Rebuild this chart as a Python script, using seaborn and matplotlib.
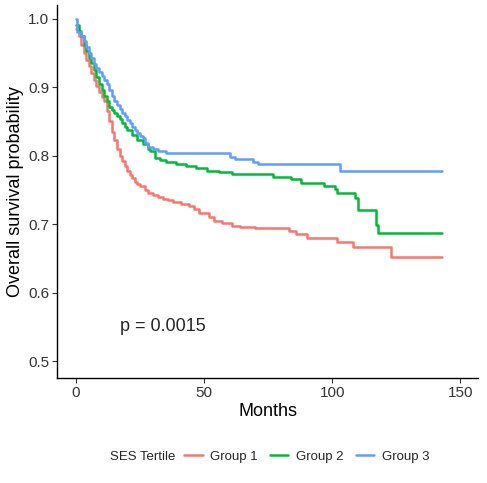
import seaborn as sns
import matplotlib.pyplot as plt
import pandas as pd

# Kaplan-Meier step points
months_g1 = [0, 1, 2, 3, 4, 5, 6, 7, 8, 9, 10, 11, 12, 13, 14, 15, 16, 17, 18, 19,
             20, 21, 22, 23, 24, 25, 27, 28, 30, 32, 34, 36, 38, 41, 44, 46, 48, 52,
             54, 57, 61, 64, 70, 83, 86, 90, 102, 108, 123, 143]
surv_g1 = [0.985, 0.975, 0.962, 0.950, 0.940, 0.930, 0.921, 0.910, 0.901, 0.893,
           0.885, 0.880, 0.865, 0.850, 0.835, 0.822, 0.810, 0.800, 0.792, 0.785,
           0.778, 0.772, 0.767, 0.762, 0.758, 0.755, 0.750, 0.746, 0.743, 0.740,
           0.737, 0.735, 0.732, 0.729, 0.726, 0.722, 0.716, 0.710, 0.704, 0.702,
           0.697, 0.696, 0.694, 0.690, 0.686, 0.680, 0.674, 0.667, 0.652, 0.652]

months_g2 = [0, 1, 2, 3, 4, 5, 6, 7, 8, 9, 10, 11, 12, 13, 14, 15, 16, 17, 18, 19,
             20, 22, 24, 26, 28, 29, 31, 33, 35, 39, 43, 47, 51, 56, 61, 77, 84, 88,
             97, 101, 102, 109, 110, 117, 118, 143]
surv_g2 = [0.990, 0.982, 0.974, 0.962, 0.952, 0.942, 0.935, 0.925, 0.915, 0.905,
           0.896, 0.887, 0.879, 0.871, 0.866, 0.862, 0.858, 0.854, 0.848, 0.842,
           0.837, 0.830, 0.823, 0.817, 0.810, 0.806, 0.797, 0.793, 0.790, 0.787,
           0.785, 0.782, 0.778, 0.776, 0.773, 0.769, 0.766, 0.760, 0.756, 0.751,
           0.746, 0.738, 0.720, 0.699, 0.687, 0.687]

months_g3 = [0, 0.5, 2, 3, 4, 5, 6, 7, 8, 9, 10, 11, 12, 13, 14, 15, 16, 17, 18, 19,
             20, 21, 22, 23, 24, 25, 26, 27, 28, 30, 32, 35, 60, 62, 69, 71, 103, 143]
surv_g3 = [1.000, 0.981, 0.975, 0.967, 0.958, 0.950, 0.942, 0.934, 0.928, 0.922,
           0.916, 0.910, 0.904, 0.895, 0.887, 0.880, 0.874, 0.868, 0.862, 0.857,
           0.852, 0.847, 0.842, 0.837, 0.833, 0.829, 0.825, 0.818, 0.813, 0.809,
           0.806, 0.804, 0.798, 0.795, 0.791, 0.788, 0.778, 0.778]

groups = ["Group 1", "Group 2", "Group 3"]
colors = ["#F8766D", "#00BA38", "#619CFF"]

df = pd.concat([
    pd.DataFrame({"Months": months_g1, "surv": surv_g1, "group": groups[0]}),
    pd.DataFrame({"Months": months_g2, "surv": surv_g2, "group": groups[1]}),
    pd.DataFrame({"Months": months_g3, "surv": surv_g3, "group": groups[2]}),
])

sns.set_style("white")
plt.rcParams["font.family"] = ["Liberation Sans", "DejaVu Sans"]

fig = plt.figure(figsize=(4.87, 4.83), dpi=100)
ax = fig.add_axes([0.117, 0.217, 0.865, 0.773])

sns.lineplot(data=df, x="Months", y="surv", hue="group", palette=colors,
             drawstyle="steps-post", estimator=None, linewidth=1.8, ax=ax)

ax.set_xlim(-7.4, 157)
ax.set_ylim(0.475, 1.02)
ax.set_xticks([0, 50, 100, 150])
ax.set_yticks([0.5, 0.6, 0.7, 0.8, 0.9, 1.0])
ax.set_yticklabels(["0.5", "0.6", "0.7", "0.8", "0.9", "1.0"])
ax.set_xlabel("Months", fontsize=13, color="black", labelpad=2)
ax.set_ylabel("Overall survival probability", fontsize=13, color="black", labelpad=3)
ax.tick_params(axis="both", labelsize=11, labelcolor="#333333", color="#333333",
               length=3.5, width=0.8, direction="out", bottom=True, left=True, pad=2)
for side in ["top", "right"]:
    ax.spines[side].set_visible(False)
for side in ["left", "bottom"]:
    ax.spines[side].set_color("black")
    ax.spines[side].set_linewidth(1.0)

ax.text(17, 0.55, "p = 0.0015", fontsize=13, va="center", ha="left")

handles, labels = ax.get_legend_handles_labels()
ax.get_legend().remove()
fig.text(0.226, 0.054, "SES Tertile", fontsize=9.5, va="center", ha="left")
fig.legend(handles, labels, loc="center left", bbox_to_anchor=(0.378, 0.054),
           ncol=3, frameon=False, fontsize=9.5, handlelength=1.4, columnspacing=0.9,
           handletextpad=0.6, borderaxespad=0, borderpad=0)

plt.savefig("out.png", dpi=100)
